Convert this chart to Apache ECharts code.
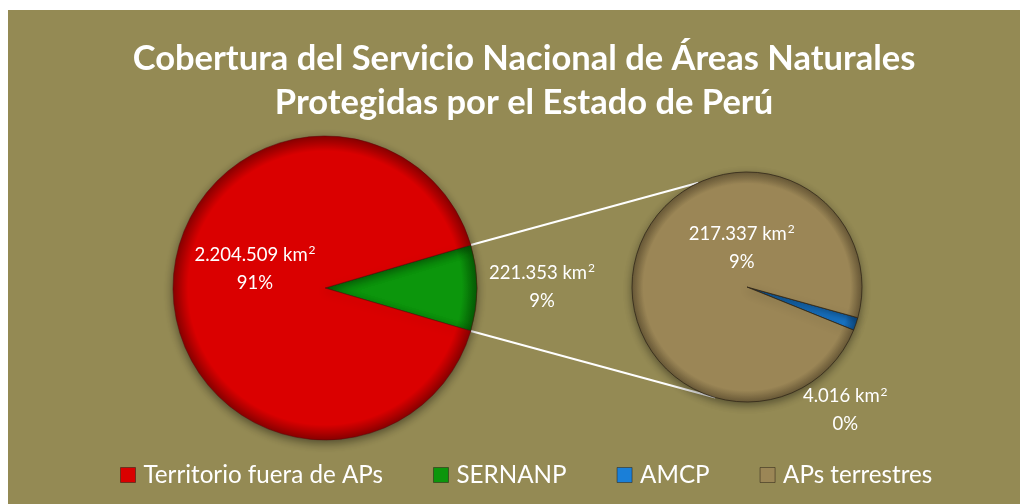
<!DOCTYPE html>
<html>
<head>
<meta charset="utf-8">
<script src="https://cdn.jsdelivr.net/npm/echarts@6/dist/echarts.min.js"></script>
<style>
  html, body { margin: 0; padding: 0; background: #ffffff; }
  #chart { width: 1020px; height: 504px; }
</style>
</head>
<body>
<div id="chart"></div>
<script>
// datos (km2)
var categorias = ["Territorio fuera de APs", "SERNANP", "AMCP", "APs terrestres"];
var pieGrande = [2204509, 221353];        // Territorio, SERNANP
var pieChico = [4016, 217337];            // AMCP, APs terrestres
var etiquetas = ["2.204.509 km{s|2}\n91%", "221.353 km{s|2}\n9%", "4.016 km{s|2}\n0%", "217.337 km{s|2}\n9%"];
var colores = ["#da0000", "#0c960c", "#1a7fd8", "#9b8656"];
var bordes = ["#8a0000", "#055a05", "#0e4f8a", "#6a5a38"];

var fuente = "Lato, 'Open Sans', sans-serif";
var c1 = [325, 288], r1 = 152;
var c2 = [747, 287], r2 = 115;

// angulo de la cuña SERNANP, centrada a las 3 en punto
var medio = pieGrande[1] / (pieGrande[0] + pieGrande[1]) * 180;

function punto(c, r, ang) {
  var a = ang * Math.PI / 180;
  return [c[0] + r * Math.cos(a), c[1] - r * Math.sin(a)];
}
var p1 = punto(c1, r1, medio), p2 = punto(c2, r2, 115);
var p3 = punto(c1, r1, -medio), p4 = punto(c2, r2, -106);

// leve sombreado en el borde del pastel
function relleno(i, c, r) {
  return {
    type: "radial", x: c[0], y: c[1], r: r, global: true,
    colorStops: [
      { offset: 0, color: colores[i] },
      { offset: 0.9, color: colores[i] },
      { offset: 1, color: bordes[i] }
    ]
  };
}

var etiqueta = {
  position: "inside",
  color: "#ffffff",
  fontFamily: fuente,
  fontSize: 18.5,
  lineHeight: 28,
  rich: { s: { fontSize: 12, fontFamily: fuente, color: "#ffffff", padding: [0, 0, 9, 1] } }
};
// desplazamientos de las etiquetas (como en el original)
var despGrande = [[138, -1], [9, -19]];
var despChico = [[41, 104], [52, -20]];

var chart = echarts.init(document.getElementById("chart"));
var option = {
  backgroundColor: "#ffffff",
  animation: false,
  title: {
    text: "Cobertura del Servicio Nacional de Áreas Naturales\nProtegidas por el Estado de Perú",
    left: 519,
    top: 32,
    textAlign: "center",
    textStyle: { color: "#ffffff", fontFamily: fuente, fontWeight: "bold", fontSize: 34.5, lineHeight: 44 }
  },
  legend: {
    left: 115,
    top: 458,
    itemWidth: 15,
    itemHeight: 15,
    itemGap: 50,
    icon: "rect",
    itemStyle: { borderColor: "rgba(40,30,20,0.5)", borderWidth: 1 },
    textStyle: { color: "#ffffff", fontFamily: fuente, fontSize: 24.2, padding: [0, 0, 0, 3] }
  },
  graphic: [
    { type: "rect", z: -10, shape: { x: 8, y: 10, width: 1012, height: 494 }, style: { fill: "#948a54" }, silent: true },
    { type: "line", z: -5, shape: { x1: p1[0], y1: p1[1], x2: p2[0], y2: p2[1] }, style: { stroke: "#ffffff", lineWidth: 2 } },
    { type: "line", z: -5, shape: { x1: p3[0], y1: p3[1], x2: p4[0], y2: p4[1] }, style: { stroke: "#ffffff", lineWidth: 2 } }
  ],
  series: [
    {
      type: "pie",
      center: c1,
      radius: r1,
      startAngle: medio,
      clockwise: true,
      itemStyle: { borderColor: "rgba(90,10,10,0.5)", borderWidth: 1, shadowBlur: 10, shadowOffsetY: 3, shadowColor: "rgba(0,0,0,0.45)" },
      label: etiqueta,
      labelLine: { show: false },
      labelLayout: function (p) { return { dx: despGrande[p.dataIndex][0], dy: despGrande[p.dataIndex][1] }; },
      data: [
        { name: categorias[1], value: pieGrande[1], itemStyle: { color: relleno(1, c1, r1) }, label: { formatter: etiquetas[1] } },
        { name: categorias[0], value: pieGrande[0], itemStyle: { color: relleno(0, c1, r1) }, label: { formatter: etiquetas[0] } }
      ]
    },
    {
      type: "pie",
      center: c2,
      radius: r2,
      startAngle: -15.5,
      clockwise: true,
      itemStyle: { borderColor: "rgba(50,40,25,0.8)", borderWidth: 1, shadowBlur: 8, shadowOffsetY: 3, shadowColor: "rgba(0,0,0,0.4)" },
      label: etiqueta,
      labelLine: { show: false },
      labelLayout: function (p) { return { dx: despChico[p.dataIndex][0], dy: despChico[p.dataIndex][1] }; },
      data: [
        { name: categorias[2], value: pieChico[0], itemStyle: { color: relleno(2, c2, r2) }, label: { formatter: etiquetas[2] } },
        { name: categorias[3], value: pieChico[1], itemStyle: { color: relleno(3, c2, r2) }, label: { formatter: etiquetas[3] } }
      ]
    }
  ]
};
// los iconos de la leyenda usan el color plano
option.legend.data = categorias.map(function (n, i) { return { name: n, itemStyle: { color: colores[i] } }; });
chart.setOption(option);
</script>
</body>
</html>
